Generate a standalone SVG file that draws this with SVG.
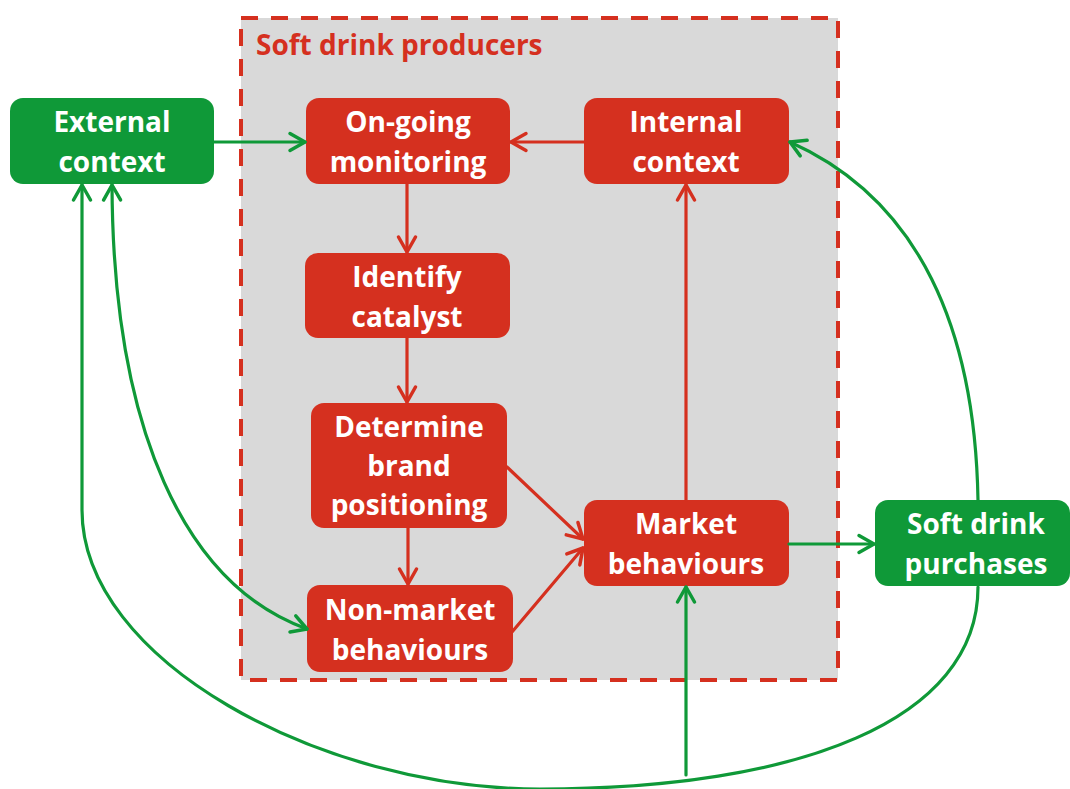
<svg xmlns="http://www.w3.org/2000/svg" width="1070" height="789" viewBox="0 0 1070 789">
  <style>
    .red { fill: #d5301f; }
    .green { fill: #0f9938; }
    .lbl { font-family: "Open Sans", "Noto Sans", "Liberation Sans", sans-serif; font-weight: 700; font-size: 28px; fill: #ffffff; text-anchor: middle; }
    .title { font-family: "Open Sans", "Noto Sans", "Liberation Sans", sans-serif; font-weight: 700; font-size: 28px; fill: #d5301f; }
    .cg { fill: none; stroke: #0f9938; stroke-width: 3.2; stroke-linecap: round; }
    .cr { fill: none; stroke: #d5301f; stroke-width: 3.2; stroke-linecap: round; }
  </style>
  <defs>
    <marker id="ag" markerUnits="userSpaceOnUse" orient="auto-start-reverse" refX="0" refY="0" markerWidth="40" markerHeight="40" viewBox="-20 -20 40 40" overflow="visible">
      <path d="M-15,-8.5 L0,0 L-15,8.5" fill="none" stroke="#0f9938" stroke-width="3.5" stroke-linecap="round" stroke-linejoin="round"/>
    </marker>
    <marker id="ar" markerUnits="userSpaceOnUse" orient="auto" refX="0" refY="0" markerWidth="40" markerHeight="40" viewBox="-20 -20 40 40" overflow="visible">
      <path d="M-15,-8.5 L0,0 L-15,8.5" fill="none" stroke="#d5301f" stroke-width="3.5" stroke-linecap="round" stroke-linejoin="round"/>
    </marker>
  </defs>
  <rect width="1070" height="789" fill="#ffffff"/>

  <g id="producers">
    <rect x="241" y="18" width="597" height="662" fill="#d9d9d9" stroke="#d5301f" stroke-width="4" stroke-dasharray="17 13"/>
    <text class="title" x="256" y="55">Soft drink producers</text>
  </g>

  <g id="external-context">
    <rect class="green" x="10" y="98" width="204" height="86" rx="13"/>
    <text class="lbl" x="112" y="132">External</text>
    <text class="lbl" x="112" y="172">context</text>
  </g>
  <g id="ongoing-monitoring">
    <rect class="red" x="306" y="98" width="204" height="86" rx="13"/>
    <text class="lbl" x="408" y="132">On-going</text>
    <text class="lbl" x="408" y="172">monitoring</text>
  </g>
  <g id="internal-context">
    <rect class="red" x="584" y="98" width="205" height="86" rx="13"/>
    <text class="lbl" x="686" y="132">Internal</text>
    <text class="lbl" x="686" y="172">context</text>
  </g>
  <g id="identify-catalyst">
    <rect class="red" x="305" y="253" width="205" height="85" rx="13"/>
    <text class="lbl" x="407" y="287">Identify</text>
    <text class="lbl" x="407" y="327">catalyst</text>
  </g>
  <g id="determine-brand">
    <rect class="red" x="311" y="403" width="196" height="125" rx="13"/>
    <text class="lbl" x="409" y="437">Determine</text>
    <text class="lbl" x="409" y="476">brand</text>
    <text class="lbl" x="409" y="515">positioning</text>
  </g>
  <g id="non-market">
    <rect class="red" x="307" y="585" width="206" height="87" rx="13"/>
    <text class="lbl" x="410" y="620">Non-market</text>
    <text class="lbl" x="410" y="660">behaviours</text>
  </g>
  <g id="market">
    <rect class="red" x="584" y="500" width="205" height="86" rx="13"/>
    <text class="lbl" x="686" y="534">Market</text>
    <text class="lbl" x="686" y="574">behaviours</text>
  </g>
  <g id="purchases">
    <rect class="green" x="875" y="500" width="195" height="86" rx="13"/>
    <text class="lbl" x="976" y="534">Soft drink</text>
    <text class="lbl" x="976" y="574">purchases</text>
  </g>

  <g id="connectors">
    <path class="cg" d="M214,142 L305,142" marker-end="url(#ag)"/>
    <path class="cr" d="M584,142 L511,142" marker-end="url(#ar)"/>
    <path class="cr" d="M407,184 L407,252" marker-end="url(#ar)"/>
    <path class="cr" d="M407,338 L407,402" marker-end="url(#ar)"/>
    <path class="cr" d="M408,528 L408,584" marker-end="url(#ar)"/>
    <path class="cr" d="M507,467 L583,539" marker-end="url(#ar)"/>
    <path class="cr" d="M512,632 L583,548" marker-end="url(#ar)"/>
    <path class="cr" d="M686,500 L686,185" marker-end="url(#ar)"/>
    <path class="cg" d="M789,544 L874,544" marker-end="url(#ag)"/>
    <path class="cg" d="M978,500 C975,330 920,200 790,142" marker-end="url(#ag)"/>
    <path class="cg" d="M978,587 C978,720 800,789 540,789 C320,789 82,660 82,510 L82,185" marker-end="url(#ag)"/>
    <path class="cg" d="M686,775 L686,587" marker-end="url(#ag)"/>
    <path class="cg" d="M112,185 C113,430 185,585 307,629" marker-start="url(#ag)" marker-end="url(#ag)"/>
  </g>
</svg>
